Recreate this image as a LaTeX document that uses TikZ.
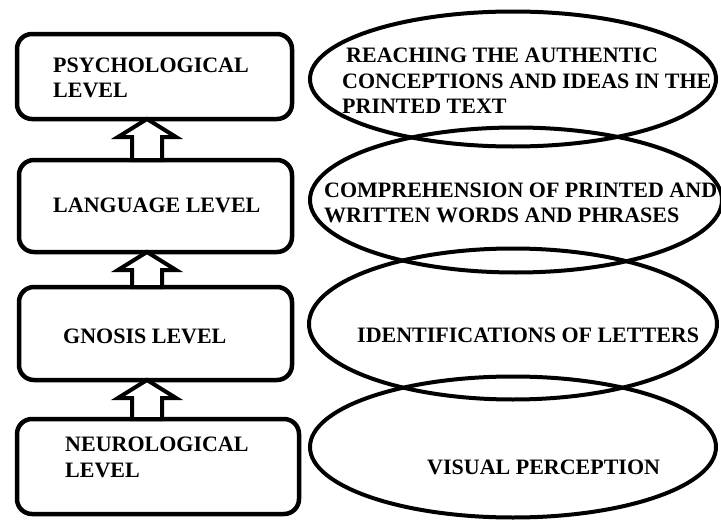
\documentclass[tikz,border=0pt]{standalone}
\usepackage{fontspec}
\setmainfont{Liberation Serif}
\usetikzlibrary{shapes.geometric,calc}
\tikzset{
  levelbox/.style={draw, line width=4.5pt, rounded corners=15pt, inner sep=0pt, outer sep=0pt},
  oval/.style={draw, ellipse, line width=4pt, inner sep=0pt, outer sep=0pt},
  lbl/.style={anchor=west, align=left, inner sep=0pt, font=\fontsize{22}{25.5}\selectfont\bfseries, text=black},
  blockarrow/.style={draw, fill=white, line width=4pt, line join=miter},
}
\newcommand\uplink[2]{%
  \draw[blockarrow] let \p1=(#1.north), \p2=(#2.south) in
    (132pt,\y1) -- (132pt,\y2-18pt) -- (118pt,\y2-18pt) -- (147pt,\y2)
    -- (176pt,\y2-18pt) -- (162pt,\y2-18pt) -- (162pt,\y1) -- cycle;}
\begin{document}
\begin{tikzpicture}[x=1pt,y=-1pt]
\useasboundingbox (0,0) rectangle (721,522);
% ellipses
\node[oval, minimum width=406pt, minimum height=135pt] (e1) at (513,79) {};
\node[oval, minimum width=412pt, minimum height=145pt] (e2) at (516,200) {};
\node[oval, minimum width=408pt, minimum height=151pt] (e3) at (513,324) {};
\node[oval, minimum width=406pt, minimum height=141pt] (e4) at (513,447) {};
% boxes
\node[levelbox, minimum width=275pt, minimum height=85pt] (b1) at (154.5,76.5) {};
\node[levelbox, minimum width=273pt, minimum height=92pt] (b2) at (155.5,206) {};
\node[levelbox, minimum width=273pt, minimum height=93pt] (b3) at (155.5,333.5) {};
\node[levelbox, minimum width=282pt, minimum height=95pt] (b4) at (158,466.5) {};
% arrows
\uplink{b2}{b1}
\uplink{b3}{b2}
\uplink{b4}{b3}
% box texts
\node[lbl] (t1) at (53,78) {PSYCHOLOGICAL\\LEVEL};
\node[lbl] (t2) at (53,205) {LANGUAGE LEVEL};
\node[lbl] (t3) at (63,336) {GNOSIS LEVEL};
\node[lbl] (t4) at (65,457.5) {NEUROLOGICAL\\LEVEL};
% ellipse texts
\node[lbl] (s1) at (342,81) {\hspace{4pt}REACHING THE AUTHENTIC\\CONCEPTIONS AND IDEAS IN THE\\PRINTED TEXT};
\node[lbl] (s2) at (324,203) {COMPREHENSION OF PRINTED AND\\WRITTEN WORDS AND PHRASES};
\node[lbl] (s3) at (357,335) {IDENTIFICATIONS OF LETTERS};
\node[lbl] (s4) at (427,467) {VISUAL PERCEPTION};
\end{tikzpicture}
\end{document}
